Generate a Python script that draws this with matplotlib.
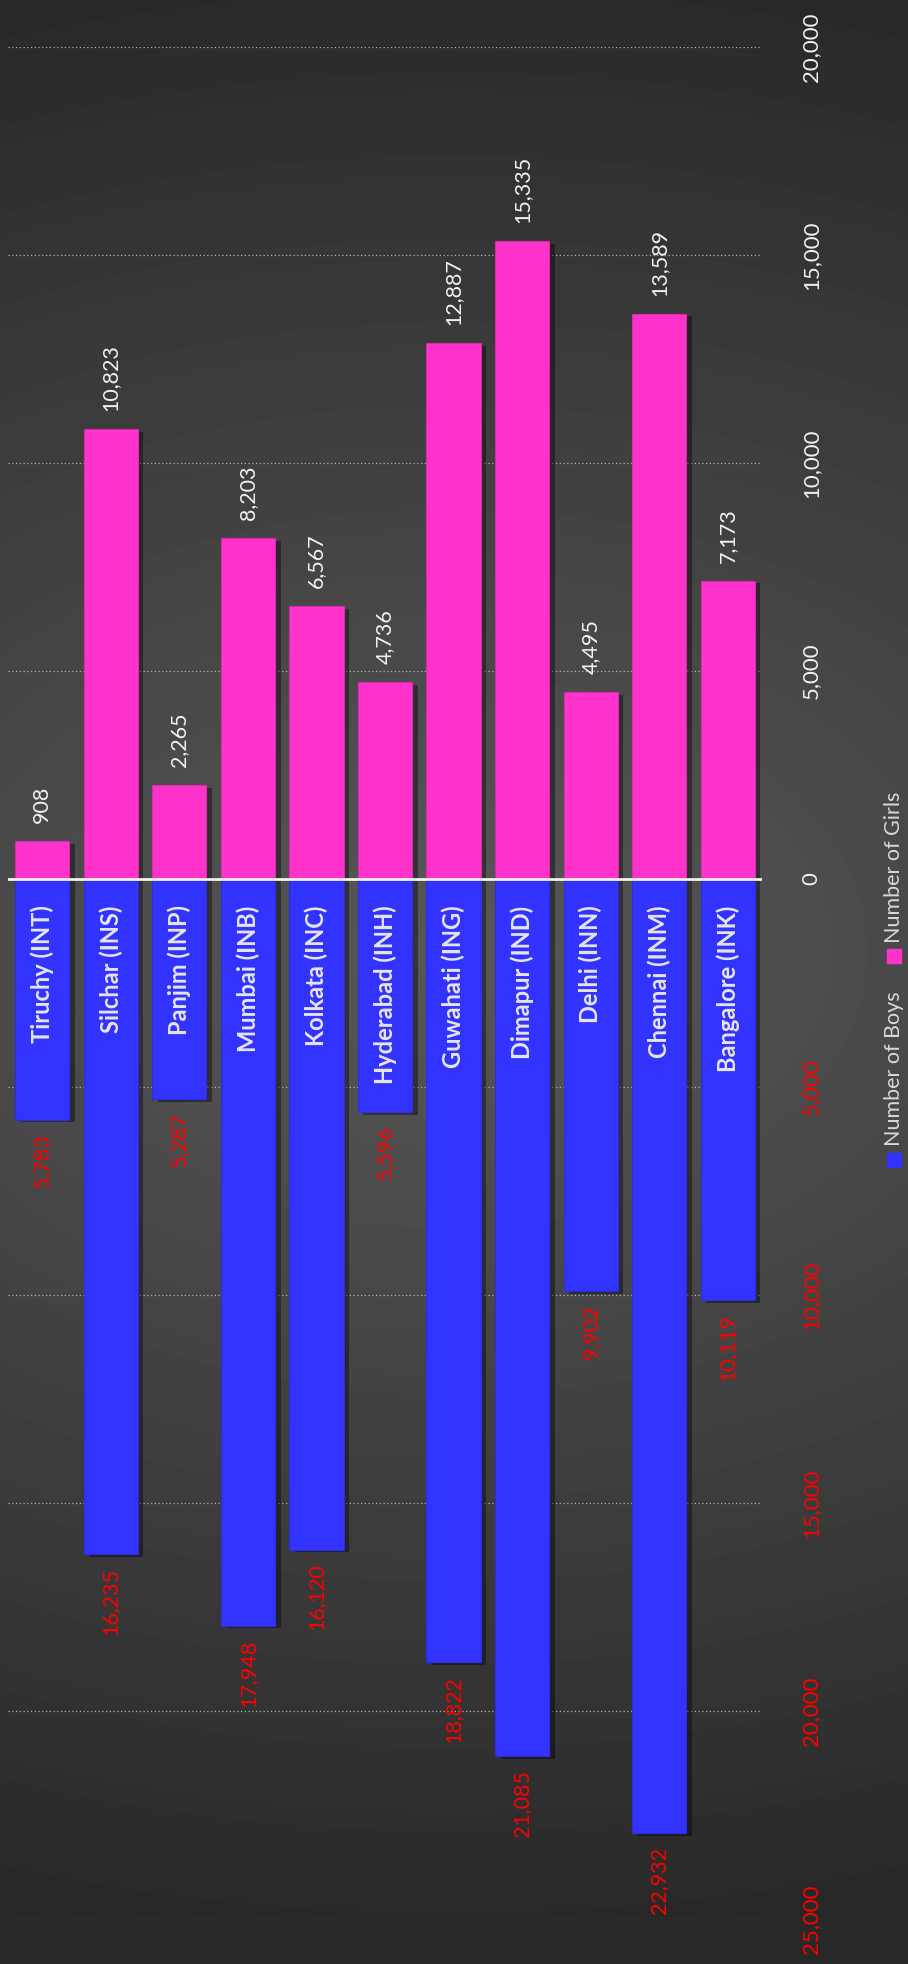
import numpy as np
import matplotlib

matplotlib.use('Agg')
import matplotlib.pyplot as plt
import matplotlib.patheffects as pe
from matplotlib.patches import Rectangle
from matplotlib.ticker import FuncFormatter

CENTRES = ["Tiruchy (INT)", "Silchar (INS)", "Panjim (INP)", "Mumbai (INB)", "Kolkata (INC)",
           "Hyderabad (INH)", "Guwahati (ING)", "Dimapur (IND)", "Delhi (INN)", "Chennai (INM)",
           "Bangalore (INK)"]
GIRLS = [908, 10823, 2265, 8203, 6567, 4736, 12887, 15335, 4495, 13589, 7173]
BOYS = [5783, 16235, 5287, 17948, 16120, 5596, 18822, 21085, 9902, 22932, 10119]
TICKS = [-25000, -20000, -15000, -10000, -5000, 0, 5000, 10000, 15000, 20000]

GIRL_COLOR = '#ff33cc'
BOY_COLOR = '#3333ff'

plt.rcParams['font.family'] = ['Lato', 'DejaVu Sans']

W, H = 908, 1964
fig = plt.figure(figsize=(W / 100, H / 100), dpi=100)

# dark radial-ish background
bg = fig.add_axes([0, 0, 1, 1], zorder=-10)
yy, xx = np.mgrid[0:H:4, 0:W:4]
r = np.sqrt(((xx - 450) / 1500.0) ** 2 + ((yy - 950) / 1000.0) ** 2)
shade = 40 + 48 * np.clip(1 - r, 0, 1)
bg.imshow(shade, cmap='gray', vmin=0, vmax=255, aspect='auto', extent=[0, 1, 0, 1],
          interpolation='bilinear')
bg.axis('off')

ax = fig.add_axes([8 / W, 1 - 1919 / H, (762 - 8) / W, (1919 - 47) / H])
ax.set_facecolor('none')

x = np.arange(len(CENTRES))
shadow = [pe.SimplePatchShadow(offset=(4, -2), shadow_rgbFace='black', alpha=0.4), pe.Normal()]
gbars = ax.bar(x, GIRLS, width=0.79, color=GIRL_COLOR, edgecolor='#d82aae', linewidth=0.8, zorder=3)
bbars = ax.bar(x, [-b for b in BOYS], width=0.79, color=BOY_COLOR, edgecolor='#2c2ce0', linewidth=0.8,
               zorder=3)
for b in list(gbars) + list(bbars):
    b.set_path_effects(shadow)

ax.axhline(0, color='#f2f2f2', lw=2.0, zorder=5)

for t in TICKS:
    if t != 0:
        ax.axhline(t, color='#b3b3b3', lw=0.9, ls=(0, (1, 2)), zorder=1)

for i in x:
    ax.annotate(f"{GIRLS[i]:,}", (i, GIRLS[i]), xytext=(0, 13), textcoords='offset points',
                rotation=90, ha='center', va='bottom', color='#f2f2f2', fontsize=15.5)
    ax.annotate(f"{BOYS[i]:,}", (i, -BOYS[i]), xytext=(0, -10), textcoords='offset points',
                rotation=90, ha='center', va='top', color='#ff0000', fontsize=15.5)
    ax.annotate(CENTRES[i], (i, 0), xytext=(0, -19), textcoords='offset points',
                rotation=90, ha='center', va='top', color='#e6e6e6', fontsize=17,
                fontweight='bold', zorder=6)

ax.set_xlim(-0.5, len(CENTRES) - 0.5)
ax.set_ylim(-25000, 20000)
ax.set_xticks([])
ax.yaxis.tick_right()
ax.set_yticks(TICKS)
ax.yaxis.set_major_formatter(FuncFormatter(lambda v, p: f"{abs(int(v)):,}"))
ax.tick_params(axis='y', length=0, pad=28, labelsize=16, labelrotation=90)
for lbl, t in zip(ax.get_yticklabels(), TICKS):
    lbl.set_color('#ff0000' if t < 0 else '#f2f2f2')
    lbl.set_va('center')
for s in ax.spines.values():
    s.set_visible(False)

# legend, rotated like the rest of the chart
fig.patches.append(Rectangle((887 / W, 1 - 1167 / H), 14 / W, 14 / H, transform=fig.transFigure,
                             color=BOY_COLOR))
fig.text(894 / W, 1 - 1146 / H, "Number of Boys", rotation=90, ha='center', va='bottom',
         color='#d9d9d9', fontsize=15.5)
fig.patches.append(Rectangle((887 / W, 1 - 963 / H), 14 / W, 14 / H, transform=fig.transFigure,
                             color=GIRL_COLOR))
fig.text(894 / W, 1 - 943 / H, "Number of Girls", rotation=90, ha='center', va='bottom',
         color='#d9d9d9', fontsize=15.5)

fig.savefig('out.png', dpi=100)
